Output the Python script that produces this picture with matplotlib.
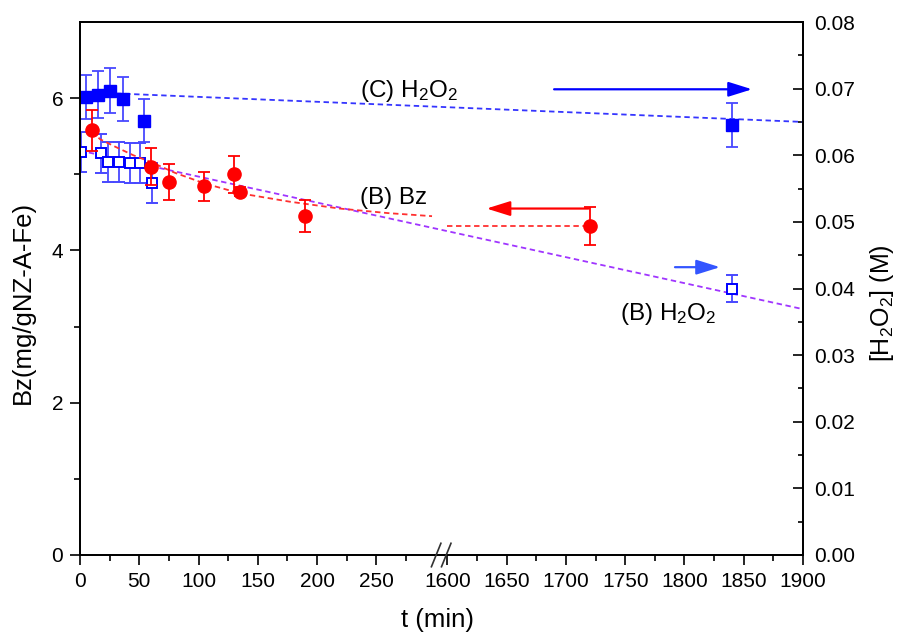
import matplotlib.pyplot as plt
from matplotlib import transforms
import numpy as np

plt.rcParams['font.family'] = ['Liberation Sans', 'DejaVu Sans']
plt.rcParams['mathtext.fontset'] = 'custom'
plt.rcParams['mathtext.rm'] = 'Liberation Sans'
plt.rcParams['mathtext.it'] = 'Liberation Sans'

# broken time axis: 0-303 min, then 1593-1900 min
BREAK_LO = 303
BREAK_HI = 1593


def tx(t):
    t = np.asarray(t, dtype=float)
    return np.where(t > BREAK_LO, t - (BREAK_HI - BREAK_LO), t)


# -------- datos --------
# (B) Bz, eje izquierdo
bz_t = [10, 60, 75, 105, 130, 135, 190, 1720]
bz = [5.58, 5.10, 4.90, 4.84, 5.00, 4.77, 4.45, 4.32]
bz_err = [0.27, 0.24, 0.24, 0.19, 0.24, 0.06, 0.21, 0.25]

# (C) H2O2, eje derecho
c_t = [5, 15, 25, 36, 54, 1840]
c_h2o2 = [0.0687, 0.0691, 0.0697, 0.0684, 0.0652, 0.0645]
c_err = [0.0033, 0.0035, 0.0034, 0.0033, 0.0032, 0.0033]

# (B) H2O2, eje derecho
b_t = [1, 18, 24, 33, 42, 51, 61, 1840]
b_h2o2 = [0.0605, 0.0603, 0.0590, 0.0590, 0.0589, 0.0588, 0.0558, 0.0400]
b_err = [0.0030, 0.0029, 0.0030, 0.0030, 0.0030, 0.0030, 0.0030, 0.0020]

# ajustes (lineas punteadas)
c_fit_t = [0, 1900]
c_fit = [0.0695, 0.0650]
b_fit_t = [0, 1900]
b_fit = [0.0607, 0.0369]
bz_fit1_t = [10, 17, 30, 45, 60, 80, 105, 135, 177, 219, 260, 297]
bz_fit1 = [5.56, 5.46, 5.36, 5.25, 5.16, 5.02, 4.88, 4.75, 4.64, 4.55, 4.49, 4.45]
bz_fit2_t = [1600, 1720]
bz_fit2 = [4.32, 4.32]

major_t = [0, 50, 100, 150, 200, 250, 1600, 1650, 1700, 1750, 1800, 1850, 1900]
minor_t = [25, 75, 125, 175, 225, 275, 1625, 1675, 1725, 1775, 1825, 1875]

BLUE = '#0000ff'
BLUE_BAR = '#4848ff'
RED = '#ff0000'
PURPLE = '#a035ff'
DASH = (0, (3, 2))

fig = plt.figure(figsize=(8.98, 6.35), dpi=100)
ax = fig.add_axes([80 / 898, 80 / 635, 723 / 898, 533 / 635])
ax2 = ax.twinx()

# fits
ax2.plot(tx(c_fit_t), c_fit, color='#3535ff', ls=DASH, lw=1.3)
ax2.plot(tx(b_fit_t), b_fit, color=PURPLE, ls=DASH, lw=1.3)
ax.plot(tx(bz_fit1_t), bz_fit1, color='#ff3030', ls=DASH, lw=1.3)
ax.plot(tx(bz_fit2_t), bz_fit2, color='#ff3030', ls=DASH, lw=1.3)

# points
ax2.errorbar(tx(b_t), b_h2o2, yerr=b_err, fmt='s', ms=7.5, mfc='white', mec=BLUE,
             mew=1.4, ecolor=BLUE_BAR, elinewidth=1.3, capsize=4, capthick=1.3)
ax2.errorbar(tx(c_t), c_h2o2, yerr=c_err, fmt='s', ms=8.5, color=BLUE,
             ecolor=BLUE_BAR, elinewidth=1.3, capsize=4, capthick=1.3)
ax.errorbar(tx(bz_t), bz, yerr=bz_err, fmt='o', ms=9.5, color=RED,
            ecolor=RED, elinewidth=1.3, capsize=4, capthick=1.3)

ax.set_zorder(ax2.get_zorder() + 1)
ax.patch.set_visible(False)

# arrows
arrow = dict(arrowstyle='-|>,head_length=0.8,head_width=0.25', lw=1.6,
             mutation_scale=18, shrinkA=0, shrinkB=0)
ax2.annotate('', xy=(tx(1857), 0.0699), xytext=(tx(1690), 0.0699),
             arrowprops=dict(arrow, color=BLUE))
ax.annotate('', xy=(tx(1633), 4.55), xytext=(tx(1719), 4.55),
            arrowprops=dict(arrow, color=RED))
ax2.annotate('', xy=(tx(1830), 0.0432), xytext=(tx(1792), 0.0432),
             arrowprops=dict(arrow, color='#3355ff'))

# text
ax.text(tx(236), 6.02, '(C) H$_2$O$_2$', fontsize=17.5, va='baseline')
ax.text(tx(236), 4.61, '(B) Bz', fontsize=17.5, va='baseline')
ax.text(tx(1746), 3.08, '(B) H$_2$O$_2$', fontsize=17.5, va='baseline')

# axes
ax.set_xlim(0, float(tx(1900)))
ax.set_ylim(0, 7)
ax2.set_ylim(0, 0.08)
ax.set_xticks(tx(major_t))
ax.set_xticklabels([str(t) for t in major_t])
ax.set_xticks(tx(minor_t), minor=True)
ax.set_yticks([0, 2, 4, 6])
ax.set_yticks([1, 3, 5], minor=True)
ax2.set_yticks(np.arange(0, 0.081, 0.01))
ax2.set_yticklabels(['%.2f' % v for v in np.arange(0, 0.081, 0.01)])
ax2.set_yticks(np.arange(0.005, 0.08, 0.01), minor=True)

ax.tick_params(axis='both', which='major', direction='out', length=7, width=1.2,
               labelsize=15, pad=5)
ax.tick_params(axis='both', which='minor', direction='out', length=4, width=1.2)
ax2.tick_params(axis='y', which='major', direction='in', length=7, width=1.2,
                labelsize=15, pad=8)
ax2.tick_params(axis='y', which='minor', direction='in', length=3.5, width=1.2)
for a in (ax, ax2):
    for s in a.spines.values():
        s.set_linewidth(1.3)

ax.set_xlabel('t (min)', fontsize=18.5)
ax.set_ylabel('Bz(mg/gNZ-A-Fe)', fontsize=18.5)
ax2.set_ylabel('[H$_2$O$_2$] (M)', fontsize=18)
ax.xaxis.set_label_coords(0.494, -0.099)
ax.yaxis.set_label_coords(-0.063, 0.473)
ax2.yaxis.set_label_coords(1.090, 0.473)

# break marks
trans = transforms.blended_transform_factory(ax.transData, ax.transAxes)
for xb in (300.5, 309):
    ax.plot([xb - 4, xb + 4], [-0.022, 0.022], color='#333333', lw=1.2,
            transform=trans, clip_on=False, zorder=10)

fig.savefig('out.png', dpi=100)
